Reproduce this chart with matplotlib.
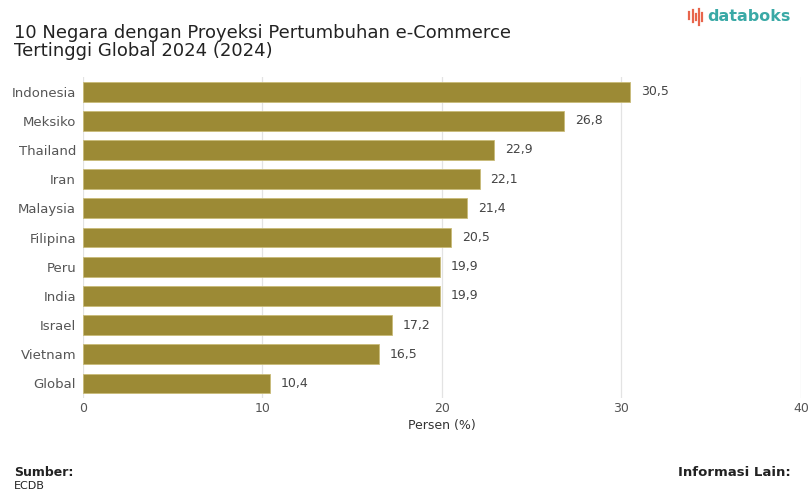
import matplotlib.pyplot as plt
from matplotlib.lines import Line2D

plt.rcParams['font.family'] = ['DejaVu Sans']

negara = ['Indonesia', 'Meksiko', 'Thailand', 'Iran', 'Malaysia', 'Filipina',
          'Peru', 'India', 'Israel', 'Vietnam', 'Global']
pertumbuhan = [30.5, 26.8, 22.9, 22.1, 21.4, 20.5, 19.9, 19.9, 17.2, 16.5, 10.4]
xticks = [0, 10, 20, 30, 40]

fig = plt.figure(figsize=(8.09, 4.92), dpi=100)
ax = fig.add_axes([0.1026, 0.191, 0.8874, 0.6525])

ypos = list(range(len(negara)))
ax.barh(ypos, pertumbuhan, height=0.68, color='#9c8a35', edgecolor='#c9bb78',
        linewidth=0.6, zorder=3)
for y, v in zip(ypos, pertumbuhan):
    ax.text(v + 0.6, y, f'{v:.1f}'.replace('.', ','), va='center', ha='left',
            fontsize=9, color='#444444')

ax.set_yticks(ypos)
ax.set_yticklabels(negara, fontsize=9.5)
ax.set_ylim(10.5, -0.5)
ax.set_xlim(0, 40)
ax.set_xticks(xticks)
ax.tick_params(axis='both', length=0, colors='#555555')
ax.tick_params(axis='x', labelsize=9, pad=3)
ax.tick_params(axis='y', pad=5)
ax.grid(axis='x', color='#e3e3e3', linewidth=0.9, zorder=0)
for s in ax.spines.values():
    s.set_visible(False)
ax.set_xlabel('Persen (%)', fontsize=9, color='#333333', labelpad=3)

fig.text(0.017, 0.951, '10 Negara dengan Proyeksi Pertumbuhan e-Commerce\nTertinggi Global 2024 (2024)',
         fontsize=13, color='#222222', va='top', ha='left', linespacing=0.98)

# logo
for i, (dx, y0, y1) in enumerate([(0, 0.962, 0.975), (0.004, 0.955, 0.980), (0.008, 0.960, 0.972),
                                   (0.012, 0.950, 0.982), (0.016, 0.958, 0.974)]):
    fig.add_artist(Line2D([0.852 + dx, 0.852 + dx], [y0, y1], color='#e8654c',
                          linewidth=1.6, transform=fig.transFigure))
fig.text(0.874, 0.966, 'databoks', fontsize=11.5, color='#3aa9a6', fontweight='bold',
         va='center', ha='left')

fig.text(0.017, 0.040, 'Sumber:', fontsize=9, fontweight='bold', color='#222222', va='center')
fig.text(0.017, 0.012, 'ECDB', fontsize=8, color='#222222', va='center')
fig.text(0.977, 0.040, 'Informasi Lain:', fontsize=9.5, fontweight='bold', color='#222222',
         va='center', ha='right')

fig.savefig('out.png', dpi=100)
